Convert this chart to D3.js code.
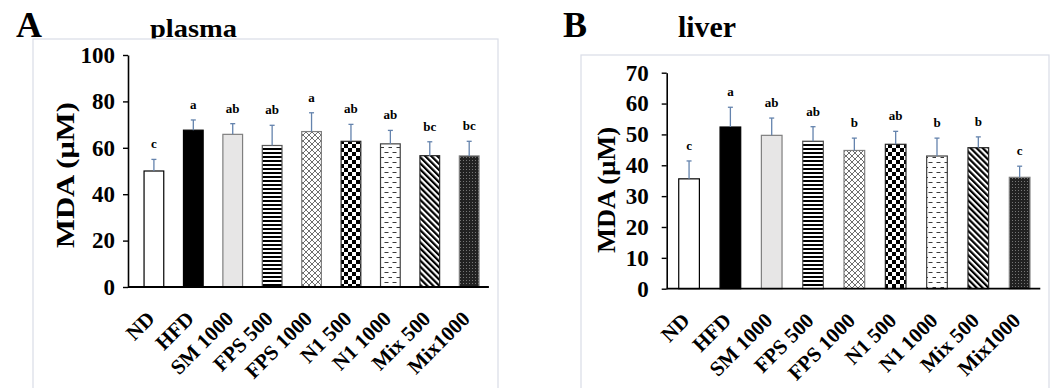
<!DOCTYPE html>
<html><head><meta charset="utf-8">
<script src="https://cdn.jsdelivr.net/npm/d3@7"></script>
<style>
body{margin:0;background:#fff}
svg{display:block}
text{font-family:"Liberation Serif","Times New Roman",serif;font-weight:bold;fill:#000}
</style>
</head><body>
<svg id="c" width="1056" height="388"></svg>
<script>
// ---------- data ----------
const categories = ["ND","HFD","SM 1000","FPS 500","FPS 1000","N1 500","N1 1000","Mix 500","Mix1000"];
const plasmaMean = [50.0, 67.6, 65.8, 61.0, 67.0, 62.8, 61.7, 56.6, 56.5];
const plasmaSD   = [5.0, 4.4, 4.6, 8.7, 8.1, 7.3, 5.8, 6.0, 6.3];
const plasmaSig  = ["c","a","ab","ab","a","ab","ab","bc","bc"];
const plasmaTicks = [0, 20, 40, 60, 80, 100];
const liverMean = [35.6, 52.4, 49.7, 47.8, 44.8, 46.8, 43.0, 45.7, 36.1];
const liverSD   = [5.8, 6.4, 5.6, 4.7, 4.0, 4.2, 5.8, 3.5, 3.6];
const liverSig  = ["c","a","ab","ab","b","ab","b","b","c"];
const liverTicks = [0, 10, 20, 30, 40, 50, 60, 70];
const yTitle = "MDA (μM)";

// ---------- styles ----------
const fills = ["#ffffff","#000000","#e7e6e6","url(#hs)","url(#ch)","url(#ck)","url(#ds)","url(#dg)","url(#ms)"];
const strokes = ["#000","#000","#7f7f7f","#595959","#7f7f7f","#262626","#404040","#262626","#7f7f7f"];

const svg = d3.select("#c");
const defs = svg.append("defs");
function pat(id, w, h, tr) {
  const p = defs.append("pattern").attr("id", id).attr("patternUnits","userSpaceOnUse")
    .attr("width", w).attr("height", h);
  if (tr) p.attr("patternTransform", tr);
  return p;
}
let p = pat("hs", 4, 4);
p.append("rect").attr("width",4).attr("height",4).attr("fill","#fff");
p.append("rect").attr("width",4).attr("height",2).attr("fill","#000");
p = pat("ch", 6, 6);
p.append("rect").attr("width",6).attr("height",6).attr("fill","#fff");
p.append("path").attr("d","M0,0L6,6M6,0L0,6").attr("stroke","#6e6e6e").attr("stroke-width",1);
p = pat("ck", 8, 8);
p.append("rect").attr("width",8).attr("height",8).attr("fill","#fff");
p.append("rect").attr("width",4).attr("height",4).attr("fill","#000");
p.append("rect").attr("x",4).attr("y",4).attr("width",4).attr("height",4).attr("fill","#000");
p = pat("ds", 8, 10);
p.append("rect").attr("width",8).attr("height",10).attr("fill","#fff");
p.append("path").attr("d","M0.5,2.5H4.5M4.5,7.5H8.5").attr("stroke","#3a3a3a").attr("stroke-width",1);
p = pat("dg", 4.3, 10, "rotate(-45)");
p.append("rect").attr("width",4.3).attr("height",10).attr("fill","#fff");
p.append("rect").attr("width",2.2).attr("height",10).attr("fill","#000");
p = pat("ms", 3, 3);
p.append("rect").attr("width",3).attr("height",3).attr("fill","#222");
p.append("rect").attr("x",1).attr("y",1).attr("width",1).attr("height",1).attr("fill","#767676");

function panel(cfg) {
  svg.append("text").attr("x", cfg.letterX).attr("y", 37).attr("font-size", 36).text(cfg.letter);
  svg.append("text").attr("x", cfg.titleX).attr("y", cfg.titleY).attr("font-size", cfg.titleSize)
    .attr("textLength", cfg.titleLen).attr("lengthAdjust","spacingAndGlyphs").text(cfg.title);
  svg.append("rect").attr("x", cfg.frame[0]).attr("y", cfg.frame[1])
    .attr("width", cfg.frame[2]-cfg.frame[0]).attr("height", 400-cfg.frame[1])
    .attr("fill","#fff").attr("stroke","#d9dde7").attr("stroke-width",1.2);

  const x = d3.scaleBand().domain(categories).range(cfg.xr).paddingInner(0.5).paddingOuter(0.25);
  const y = d3.scaleLinear().domain([0, d3.max(cfg.ticks)]).range(cfg.yr);
  const g = svg.append("g");

  g.selectAll("rect.bar").data(categories).join("rect").attr("class","bar")
    .attr("x", d => x(d)).attr("width", x.bandwidth())
    .attr("y", (d,i) => y(cfg.mean[i])).attr("height", (d,i) => y(0) - y(cfg.mean[i]))
    .attr("fill", (d,i) => fills[i]).attr("stroke", (d,i) => strokes[i]).attr("stroke-width", 1.2);

  const eb = g.selectAll("g.eb").data(categories).join("g").attr("class","eb");
  eb.append("line")
    .attr("x1", d => x(d) + x.bandwidth()/2).attr("x2", d => x(d) + x.bandwidth()/2)
    .attr("y1", (d,i) => y(cfg.mean[i])).attr("y2", (d,i) => y(cfg.mean[i] + cfg.sd[i]))
    .attr("stroke","#6483ad").attr("stroke-width",1.3);
  eb.append("line")
    .attr("x1", d => x(d) + x.bandwidth()/2 - 2.5).attr("x2", d => x(d) + x.bandwidth()/2 + 2.5)
    .attr("y1", (d,i) => y(cfg.mean[i] + cfg.sd[i])).attr("y2", (d,i) => y(cfg.mean[i] + cfg.sd[i]))
    .attr("stroke","#6483ad").attr("stroke-width",1.3);

  g.selectAll("text.sig").data(categories).join("text").attr("class","sig")
    .attr("x", d => x(d) + x.bandwidth()/2)
    .attr("y", (d,i) => y(cfg.mean[i] + cfg.sd[i]) - 11)
    .attr("text-anchor","middle").attr("font-size", 13)
    .text((d,i) => cfg.sig[i]);

  const ya = svg.append("g").attr("transform", `translate(${cfg.yAxisX},0)`)
    .call(d3.axisLeft(y).tickValues(cfg.ticks).tickSize(5).tickSizeOuter(0).tickPadding(cfg.tickPad));
  ya.select(".domain").attr("stroke","#000").attr("stroke-width",1.6);
  ya.selectAll(".tick line").attr("stroke","#000").attr("stroke-width",1.4);
  ya.selectAll(".tick text").attr("font-size",23);

  const xa = svg.append("g").attr("transform", `translate(0,${y(0)})`)
    .call(d3.axisBottom(x).tickSize(0));
  xa.select(".domain").remove();
  xa.append("line").attr("x1", cfg.yAxisX).attr("x2", cfg.xr[1]).attr("y1",0).attr("y2",0)
    .attr("stroke","#000").attr("stroke-width",1.8);
  xa.selectAll(".tick text").attr("font-size",21)
    .attr("text-anchor","end").attr("y",0).attr("dy",0)
    .attr("transform","translate(2,33) rotate(-45)");

  svg.append("text").attr("transform", `translate(${cfg.yTitleX},${cfg.yTitleY}) rotate(-90)`)
    .attr("text-anchor","middle").attr("font-size", 26)
    .attr("textLength", cfg.yTitleLen).attr("lengthAdjust","spacingAndGlyphs").text(yTitle);
}

panel({letter:"A", letterX:16, title:"plasma", titleX:150, titleY:37, titleSize:26, titleLen:87,
  frame:[33,39,498], xr:[134.2,488.9], yr:[287,55], yAxisX:128, tickPad:8,
  mean:plasmaMean, sd:plasmaSD, sig:plasmaSig, ticks:plasmaTicks,
  yTitleX:74, yTitleY:175, yTitleLen:146});
panel({letter:"B", letterX:563, title:"liver", titleX:678, titleY:37, titleSize:29, titleLen:58,
  frame:[581,55,1049], xr:[668.4,1040.3], yr:[288.7,72.7], yAxisX:666.7, tickPad:13,
  mean:liverMean, sd:liverSD, sig:liverSig, ticks:liverTicks,
  yTitleX:615, yTitleY:190, yTitleLen:126});
</script>
</body></html>
